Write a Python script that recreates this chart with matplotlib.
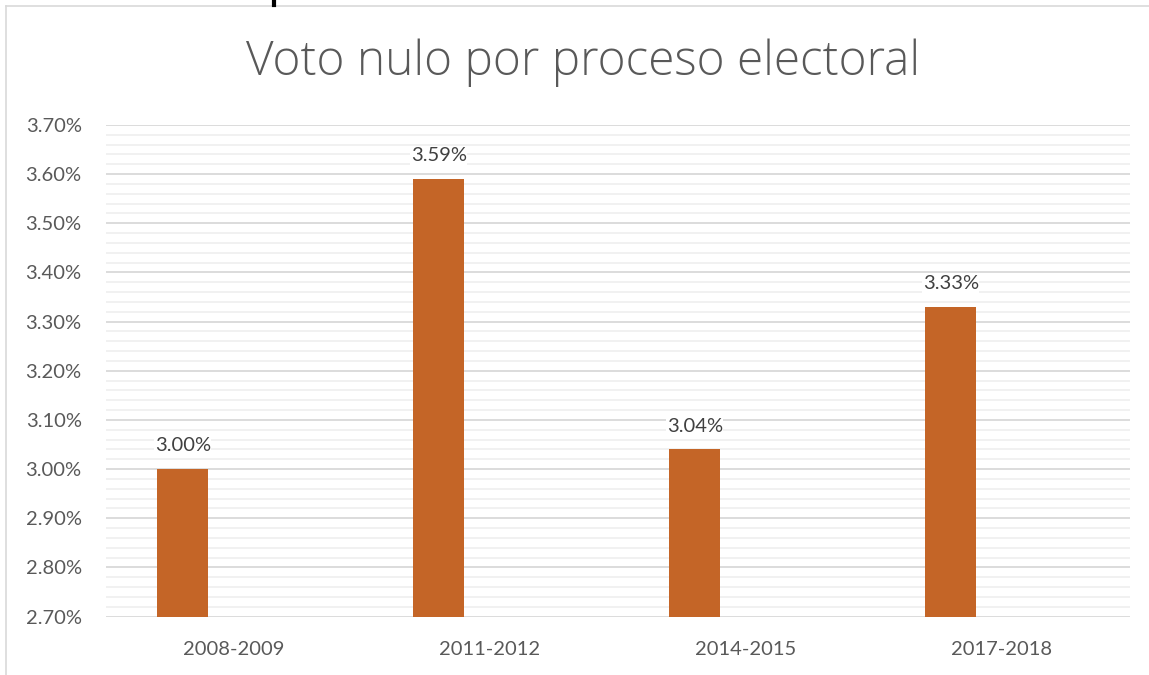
import matplotlib
matplotlib.use("Agg")
import matplotlib.pyplot as plt
from matplotlib.ticker import MultipleLocator, FuncFormatter
import numpy as np

categories = ["2008-2009", "2011-2012", "2014-2015", "2017-2018"]
values = [3.00, 3.59, 3.04, 3.33]
labels = ["3.00%", "3.59%", "3.04%", "3.33%"]

plt.rcParams['font.family'] = ['Lato', 'DejaVu Sans']
gray = '#595959'

fig = plt.figure(figsize=(11.49, 6.75), dpi=100)
W, H = 1149, 675
ax = fig.add_axes([106/W, 1 - 616.5/H, (1130-106)/W, (616.5-125)/H])

x = np.arange(len(categories))
ax.bar(x - 0.2, np.array(values) - 2.70, bottom=2.70, width=0.2, color='#c46527', zorder=3)
for xi, v, lab in zip(x, values, labels):
    ax.text(xi - 0.2, v + 0.03, lab, ha='center', va='bottom', fontsize=14.5, color='#404040',
            bbox=dict(facecolor='white', edgecolor='none', pad=0.5), zorder=4)

ax.set_xlim(-0.5, len(categories) - 0.5)
ax.set_ylim(2.70, 3.70)
ax.yaxis.set_major_locator(MultipleLocator(0.1))
ax.yaxis.set_minor_locator(MultipleLocator(0.02))
ax.yaxis.set_major_formatter(FuncFormatter(lambda v, p: f"{v:.2f}%"))
ax.set_xticks(x)
ax.set_xticklabels(categories)
ax.grid(axis='y', which='major', color='#d9d9d9', linewidth=1.3, zorder=0)
ax.grid(axis='y', which='minor', color='#f0f0f0', linewidth=1.3, zorder=0)
for s in ax.spines.values():
    s.set_visible(False)
ax.tick_params(axis='both', which='both', length=0, labelsize=14.5, labelcolor=gray)
ax.tick_params(axis='y', pad=17.5)
ax.tick_params(axis='x', pad=17.5)

fig.text(583/W, 1 - 63/H, "Voto nulo por proceso electoral", ha='center', va='center',
         fontsize=34.4, color=gray, family=['Open Sans', 'DejaVu Sans'], fontweight='light')

# chart frame
fig.add_artist(plt.Line2D([6/W, 1], [1 - 6/H, 1 - 6/H], color='#d9d9d9', linewidth=1.2))
fig.add_artist(plt.Line2D([6/W, 6/W], [0, 1 - 6/H], color='#d9d9d9', linewidth=1.2))
fig.add_artist(plt.Line2D([273.5/W, 273.5/W], [1 - 5/H, 1], color='black', linewidth=3))

fig.savefig("out.png", dpi=100)
